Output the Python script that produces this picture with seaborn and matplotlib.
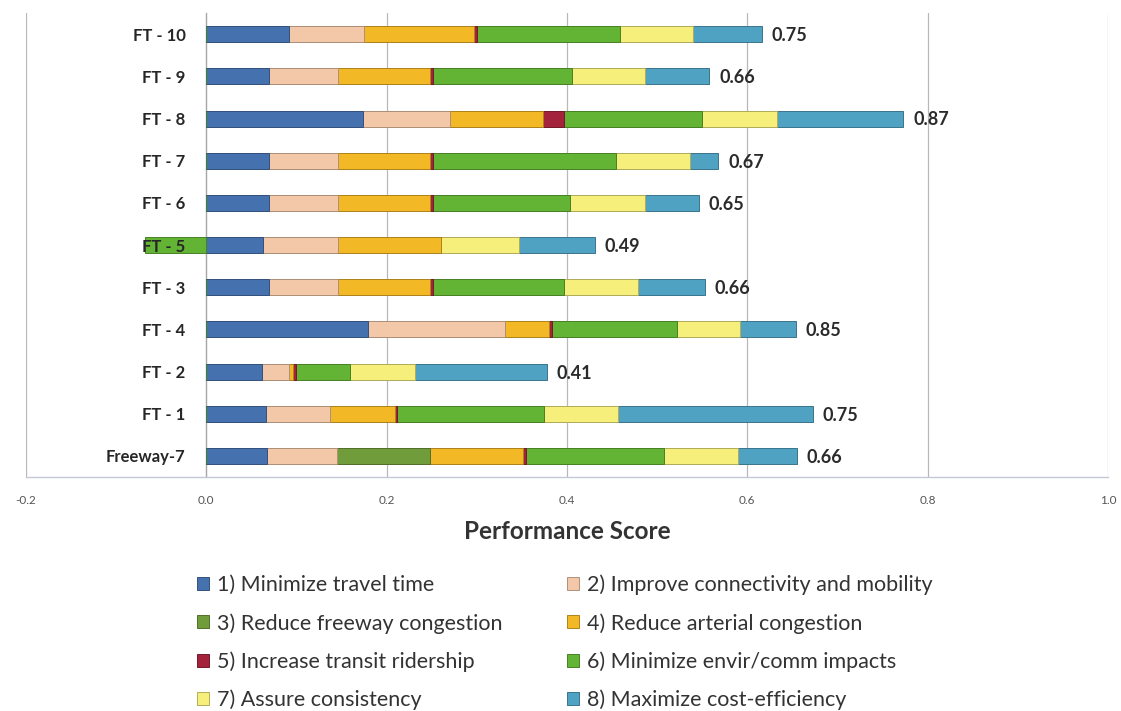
import numpy as np
import pandas as pd
import matplotlib
matplotlib.use("Agg")
import matplotlib.pyplot as plt
import matplotlib.colors as mcolors
from matplotlib.patches import Patch
import seaborn as sns

# ---- data -------------------------------------------------------------
alternatives = ["FT - 10", "FT - 9", "FT - 8", "FT - 7", "FT - 6", "FT - 5",
                "FT - 3", "FT - 4", "FT - 2", "FT - 1", "Freeway-7"]

minimize_travel_time = [0.092, 0.069, 0.174, 0.069, 0.069, 0.063, 0.069, 0.179, 0.062, 0.066, 0.067]
improve_connectivity = [0.083, 0.077, 0.096, 0.077, 0.077, 0.083, 0.077, 0.152, 0.030, 0.071, 0.078]
reduce_freeway_cong = [0.0, 0.0, 0.0, 0.0, 0.0, 0.0, 0.0, 0.0, 0.0, 0.0, 0.103]
reduce_arterial_cong = [0.122, 0.102, 0.103, 0.102, 0.102, 0.114, 0.102, 0.049, 0.004, 0.072, 0.103]
increase_transit = [0.003, 0.003, 0.024, 0.003, 0.003, 0.0, 0.003, 0.003, 0.003, 0.003, 0.003]
minimize_impacts = [0.159, 0.154, 0.153, 0.203, 0.152, -0.068, 0.146, 0.139, 0.060, 0.163, 0.154]
assure_consistency = [0.081, 0.082, 0.083, 0.082, 0.083, 0.087, 0.082, 0.070, 0.072, 0.082, 0.082]
cost_efficiency = [0.076, 0.071, 0.140, 0.032, 0.060, 0.084, 0.074, 0.062, 0.147, 0.216, 0.065]

total_scores = [0.75, 0.66, 0.87, 0.67, 0.65, 0.49, 0.66, 0.85, 0.41, 0.75, 0.66]

objective_names = [
    "1) Minimize travel time",
    "2) Improve connectivity and mobility",
    "3) Reduce freeway congestion",
    "4) Reduce arterial congestion",
    "5) Increase transit ridership",
    "6) Minimize envir/comm impacts",
    "7) Assure consistency",
    "8) Maximize cost-efficiency",
]
objective_values = [minimize_travel_time, improve_connectivity, reduce_freeway_cong,
                    reduce_arterial_cong, increase_transit, minimize_impacts,
                    assure_consistency, cost_efficiency]
objective_colors = ["#4571AE", "#F3C8A8", "#709C3C", "#F3B826",
                    "#A3233C", "#63B334", "#F6EF7C", "#4FA2C2"]

# ---- figure -------------------------------------------------------------
sns.set_theme(style="white")
plt.rcParams["font.family"] = ["Lato", "DejaVu Sans"]

fig = plt.figure(figsize=(11.21, 7.11), dpi=100)
ax = fig.add_axes([0.0232, 0.329, 0.9652, 0.6525])

df = pd.DataFrame({"alternative": alternatives})
vals = np.array(objective_values, dtype=float)
pos = np.clip(vals, 0, None)
neg = np.clip(vals, None, 0)
cum = np.cumsum(pos, axis=0)


def darker(c, f=0.72):
    r, g, b = mcolors.to_rgb(c)
    return (r * f, g * f, b * f)


bar_w = 0.38
# stacked positive parts: draw the running totals from the last objective back to the first
for k in range(len(objective_names) - 1, -1, -1):
    d = df.assign(value=cum[k])
    sns.barplot(data=d, x="value", y="alternative", order=alternatives, orient="h",
                color=objective_colors[k], saturation=1, width=bar_w, errorbar=None,
                edgecolor=darker(objective_colors[k]), linewidth=0.7, ax=ax, zorder=3)

# negative parts extend to the left of zero
for k in range(len(objective_names)):
    if (neg[k] < 0).any():
        d = df.assign(value=neg[k])
        sns.barplot(data=d, x="value", y="alternative", order=alternatives, orient="h",
                    color=objective_colors[k], saturation=1, width=bar_w, errorbar=None,
                    edgecolor=darker(objective_colors[k]), linewidth=0.7, ax=ax, zorder=3)

# score labels at the end of each bar
bar_end = cum[-1]
for i, (end, score) in enumerate(zip(bar_end, total_scores)):
    ax.annotate(f"{score:.2f}", xy=(end, i), xytext=(7, -1), textcoords="offset points",
                ha="left", va="center", fontsize=13, fontweight="bold", color="#2b2b2b")

# ---- axes styling -------------------------------------------------------------
ax.spines["left"].set_position(("data", 0))
ax.spines["left"].set_color("#A8A8A8")
ax.spines["left"].set_linewidth(0.9)
ax.spines["bottom"].set_color("#C4C8D4")
ax.spines["bottom"].set_linewidth(1.0)
ax.spines["top"].set_visible(False)
ax.spines["right"].set_visible(False)

ax.set_xlim(-0.2, 1.0)
ax.set_ylim(10.5, -0.5)
xt = np.round(np.arange(-0.2, 1.01, 0.2), 1)
ax.set_xticks(xt)
ax.set_xticklabels([f"{v:.1f}" for v in xt])
ax.tick_params(axis="x", length=0, pad=13, labelsize=8.5, labelcolor="#555555")
ax.xaxis.grid(True, color="#B8B8B8", linewidth=0.9, zorder=0)
ax.yaxis.grid(False)
ax.set_axisbelow(True)

ax.set_yticks(range(len(alternatives)))
ax.set_yticks(np.arange(-0.5, len(alternatives), 1.0), minor=True)
ax.tick_params(axis="y", which="major", length=0, pad=15, labelsize=12, labelcolor="#262626")
ax.tick_params(axis="y", which="minor", length=5, width=0.8, color="#A8A8A8", direction="out")
ax.set_yticklabels(alternatives, fontweight="bold")
# category labels sit on top of any bar reaching left of zero
ax.yaxis.set_zorder(5)

ax.set_ylabel("")
ax.set_xlabel("Performance Score", fontsize=17.5, fontweight="bold", color="#333333", labelpad=10)

# ---- legend (row-major order in two columns) ---------------------------------
handles = [Patch(facecolor=c, edgecolor=darker(c), linewidth=0.7) for c in objective_colors]
order = [0, 2, 4, 6, 1, 3, 5, 7]
fig.legend([handles[i] for i in order], [objective_names[i] for i in order],
           ncol=2, loc="upper left", bbox_to_anchor=(0.1757, 0.192), frameon=False,
           fontsize=15.5, handlelength=0.55, handleheight=0.55, handletextpad=0.37,
           columnspacing=3.0, labelspacing=0.83, borderpad=0, borderaxespad=0,
           labelcolor="#333333")

fig.savefig("out.png", dpi=100, facecolor="white")
